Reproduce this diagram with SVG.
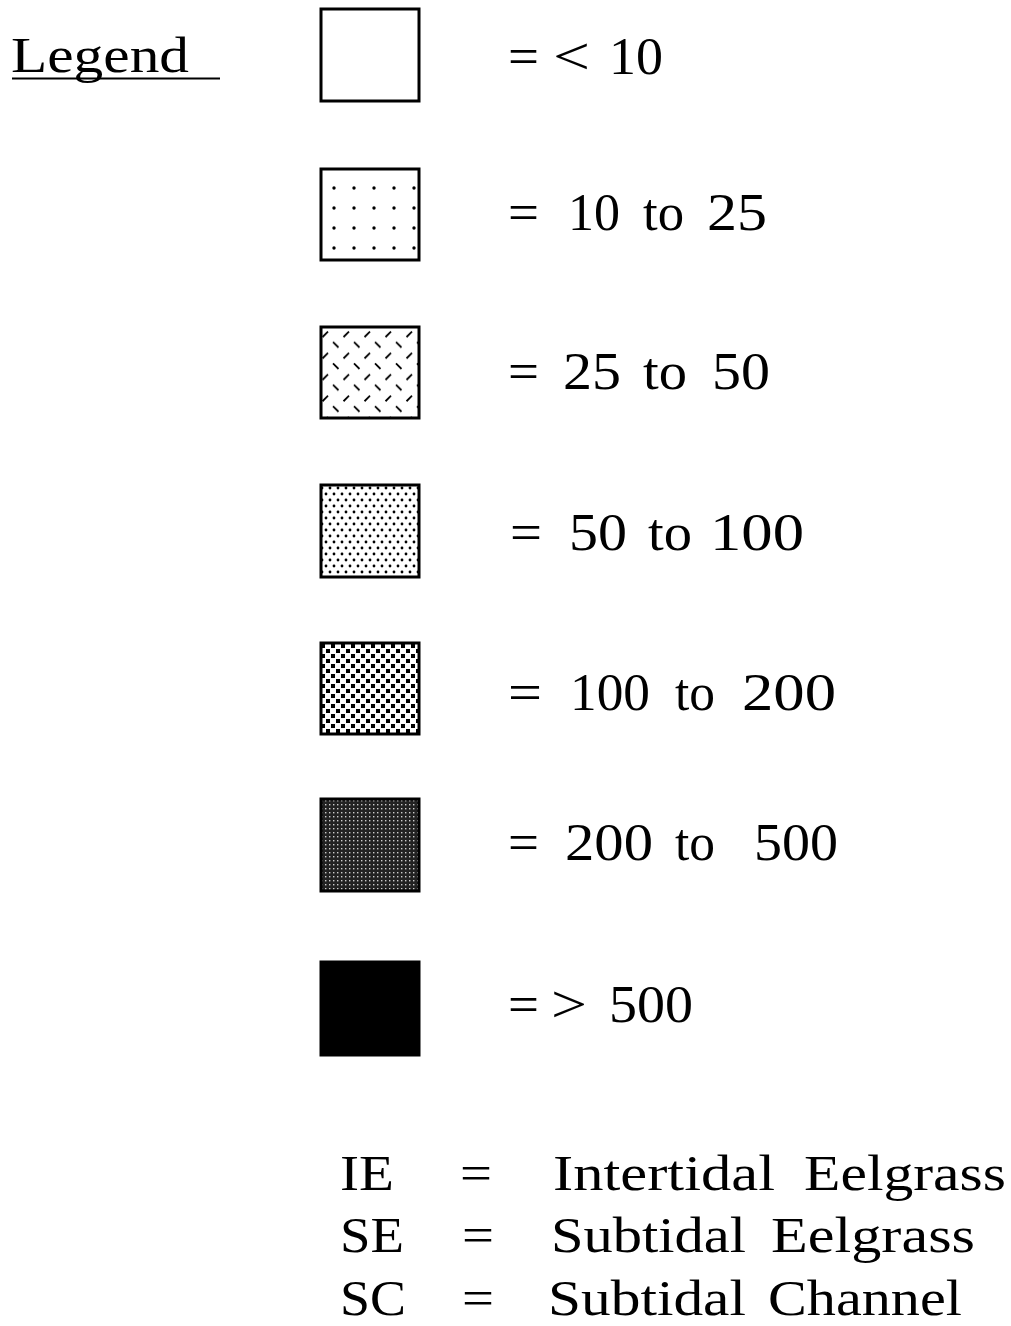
<svg xmlns="http://www.w3.org/2000/svg" width="1011" height="1326" viewBox="0 0 1011 1326">
<defs>
<pattern id="p1" x="324" y="178" width="20" height="20" patternUnits="userSpaceOnUse"><circle cx="10" cy="10" r="1.7" fill="#000"/></pattern>
<pattern id="p2" x="320" y="329" width="21" height="21.4" patternUnits="userSpaceOnUse"><path d="M2.5 8 L8 2.5 M13 13 L18.5 18.5" stroke="#000" stroke-width="1.8"/></pattern>
<pattern id="p3" x="320" y="485" width="8" height="12" patternUnits="userSpaceOnUse"><circle cx="2" cy="3" r="1.4" fill="#000"/><circle cx="6" cy="9" r="1.4" fill="#000"/></pattern>
<pattern id="p4" x="320" y="643" width="10" height="10" patternUnits="userSpaceOnUse"><rect x="1" y="1" width="4" height="4" fill="#000"/><rect x="6" y="6" width="4" height="4" fill="#000"/></pattern>
<pattern id="p5" x="320" y="799" width="4" height="4" patternUnits="userSpaceOnUse"><rect width="4" height="4" fill="#222"/><rect x="1" y="1" width="1.4" height="1.4" fill="#ccc"/></pattern>
</defs>
<style>
text{font-family:"Liberation Serif","Times New Roman",serif;fill:#000}
.t{font-size:52px}
.b{font-size:50px}
.box{stroke:#000;stroke-width:3}
</style>
<rect width="1011" height="1326" fill="#fff"/>
<g id="title">
<text x="11" y="72" font-size="51" textLength="178" lengthAdjust="spacingAndGlyphs">Legend</text>
<line x1="12" y1="78.5" x2="220" y2="78.5" stroke="#000" stroke-width="2"/>
</g>
<g id="row1"><rect class="box" x="321" y="9" width="98" height="92" fill="#fff"/>
<text class="t" x="508" y="74" textLength="31" lengthAdjust="spacingAndGlyphs">=</text><text class="t" x="553" y="74" textLength="37" lengthAdjust="spacingAndGlyphs">&lt;</text><text class="t" x="609" y="74" textLength="54" lengthAdjust="spacingAndGlyphs">10</text></g>
<g id="row2"><rect class="box" x="321" y="169" width="98" height="91" fill="url(#p1)"/>
<text class="t" x="508" y="230" textLength="31" lengthAdjust="spacingAndGlyphs">=</text><text class="t" x="568" y="230" textLength="52" lengthAdjust="spacingAndGlyphs">10</text><text class="t" x="643" y="230" textLength="41" lengthAdjust="spacingAndGlyphs">to</text><text class="t" x="707" y="230" textLength="60" lengthAdjust="spacingAndGlyphs">25</text></g>
<g id="row3"><rect class="box" x="321" y="327" width="98" height="91" fill="url(#p2)"/>
<text class="t" x="508" y="389" textLength="31" lengthAdjust="spacingAndGlyphs">=</text><text class="t" x="563" y="389" textLength="58" lengthAdjust="spacingAndGlyphs">25</text><text class="t" x="643" y="389" textLength="44" lengthAdjust="spacingAndGlyphs">to</text><text class="t" x="712" y="389" textLength="58" lengthAdjust="spacingAndGlyphs">50</text></g>
<g id="row4"><rect class="box" x="321" y="485" width="98" height="92" fill="url(#p3)"/>
<text class="t" x="510" y="550" textLength="32" lengthAdjust="spacingAndGlyphs">=</text><text class="t" x="569" y="550" textLength="58" lengthAdjust="spacingAndGlyphs">50</text><text class="t" x="648" y="550" textLength="44" lengthAdjust="spacingAndGlyphs">to</text><text class="t" x="710" y="550" textLength="94" lengthAdjust="spacingAndGlyphs">100</text></g>
<g id="row5"><rect class="box" x="321" y="643" width="98" height="91" fill="url(#p4)"/>
<text class="t" x="508" y="710" textLength="34" lengthAdjust="spacingAndGlyphs">=</text><text class="t" x="570" y="710" textLength="80" lengthAdjust="spacingAndGlyphs">100</text><text class="t" x="675" y="710" textLength="40" lengthAdjust="spacingAndGlyphs">to</text><text class="t" x="742" y="710" textLength="94" lengthAdjust="spacingAndGlyphs">200</text></g>
<g id="row6"><rect class="box" x="321" y="799" width="98" height="92" fill="url(#p5)"/>
<text class="t" x="508" y="860" textLength="31" lengthAdjust="spacingAndGlyphs">=</text><text class="t" x="565" y="860" textLength="88" lengthAdjust="spacingAndGlyphs">200</text><text class="t" x="675" y="860" textLength="40" lengthAdjust="spacingAndGlyphs">to</text><text class="t" x="754" y="860" textLength="84" lengthAdjust="spacingAndGlyphs">500</text></g>
<g id="row7"><rect class="box" x="321" y="962" width="98" height="93" fill="#000"/>
<text class="t" x="508" y="1022" textLength="31" lengthAdjust="spacingAndGlyphs">=</text><text class="t" x="551" y="1022" textLength="36" lengthAdjust="spacingAndGlyphs">&gt;</text><text class="t" x="609" y="1022" textLength="84" lengthAdjust="spacingAndGlyphs">500</text></g>
<g id="abbr">
<text class="b" x="340" y="1190" textLength="54" lengthAdjust="spacingAndGlyphs">IE</text><text class="b" x="460" y="1190" textLength="32" lengthAdjust="spacingAndGlyphs">=</text><text class="b" x="553" y="1190" textLength="222" lengthAdjust="spacingAndGlyphs">Intertidal</text><text class="b" x="804" y="1190" textLength="202" lengthAdjust="spacingAndGlyphs">Eelgrass</text>
<text class="b" x="340" y="1252" textLength="64" lengthAdjust="spacingAndGlyphs">SE</text><text class="b" x="462" y="1252" textLength="32" lengthAdjust="spacingAndGlyphs">=</text><text class="b" x="551" y="1252" textLength="195" lengthAdjust="spacingAndGlyphs">Subtidal</text><text class="b" x="771" y="1252" textLength="204" lengthAdjust="spacingAndGlyphs">Eelgrass</text>
<text class="b" x="340" y="1315" textLength="66" lengthAdjust="spacingAndGlyphs">SC</text><text class="b" x="462" y="1315" textLength="32" lengthAdjust="spacingAndGlyphs">=</text><text class="b" x="548" y="1315" textLength="198" lengthAdjust="spacingAndGlyphs">Subtidal</text><text class="b" x="768" y="1315" textLength="194" lengthAdjust="spacingAndGlyphs">Channel</text>
</g>
</svg>
